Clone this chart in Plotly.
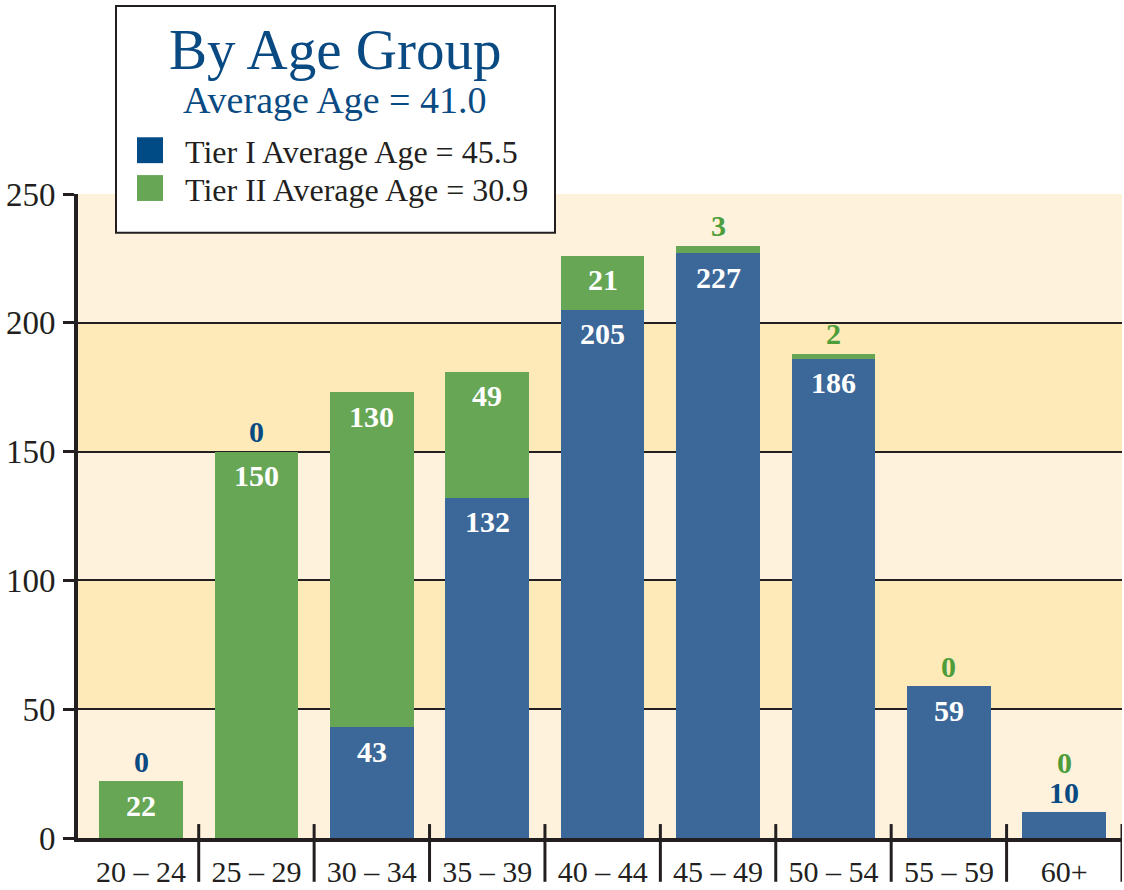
import plotly.graph_objects as go

categories = ["20 – 24", "25 – 29", "30 – 34", "35 – 39", "40 – 44",
              "45 – 49", "50 – 54", "55 – 59", "60+"]
tier1 = [0, 0, 43, 132, 205, 227, 186, 59, 10]
tier2 = [22, 150, 130, 49, 21, 3, 2, 0, 0]
y_ticks = [0, 50, 100, 150, 200, 250]

title_text = "By Age Group"
subtitle_text = "Average Age = 41.0"
legend_t1 = "Tier I Average Age = 45.5"
legend_t2 = "Tier II Average Age = 30.9"

BLUE = "#3C6899"
BLUE_DARK = "#0A4A82"
LEG_BLUE = "#004A85"
GREEN = "#66A655"
GREEN_LBL = "#4E9D3B"
INK = "#231F20"
LIGHT = "#FFF2DC"
BAND = "#FEEAB9"
FONT = "Liberation Serif"

W, H = 1124, 890
L, R, T, B = 78, 2, 194, 49
pw, ph = W - L - R, H - T - B


def px(x):
    return (x - L) / pw


def py(y):
    return (H - B - y) / ph


fig = go.Figure()
fig.add_trace(go.Bar(x=categories, y=tier1, marker=dict(color=BLUE, line=dict(width=0)),
                     name=legend_t1, showlegend=False, hoverinfo="skip"))
fig.add_trace(go.Bar(x=categories, y=tier2, marker=dict(color=GREEN, line=dict(width=0)),
                     name=legend_t2, showlegend=False, hoverinfo="skip"))

annotations = []
shapes = []

# background bands
for lo in (50, 150):
    shapes.append(dict(type="rect", xref="paper", yref="y", x0=0, x1=1, y0=lo, y1=lo + 50,
                       fillcolor=BAND, line=dict(width=0), layer="below"))

LBL_SIZE = 30
INSIDE_MIN = 15
for i, c in enumerate(categories):
    b, g = tier1[i], tier2[i]
    total = b + g
    slot = 0
    # Tier I label
    if b >= INSIDE_MIN:
        annotations.append(dict(x=c, y=b, text=f"<b>{b}</b>", showarrow=False, yanchor="middle",
                                yshift=-24, font=dict(family=FONT, size=LBL_SIZE, color="white")))
    else:
        slot += 1
        annotations.append(dict(x=c, y=total, text=f"<b>{b}</b>", showarrow=False, yanchor="middle",
                                yshift=20 + 30 * (slot - 1),
                                font=dict(family=FONT, size=LBL_SIZE, color=BLUE_DARK)))
    # Tier II label
    if g >= INSIDE_MIN:
        annotations.append(dict(x=c, y=total, text=f"<b>{g}</b>", showarrow=False, yanchor="middle",
                                yshift=-24, font=dict(family=FONT, size=LBL_SIZE, color="white")))
    else:
        slot += 1
        annotations.append(dict(x=c, y=total, text=f"<b>{g}</b>", showarrow=False, yanchor="middle",
                                yshift=20 + 30 * (slot - 1),
                                font=dict(family=FONT, size=LBL_SIZE, color=GREEN_LBL)))

# category separators
for i in range(len(categories)):
    shapes.append(dict(type="line", xref="x", yref="paper", x0=i + 0.5, x1=i + 0.5,
                       y0=py(885), y1=py(827), line=dict(color=INK, width=3)))

# legend box
shapes.append(dict(type="rect", xref="paper", yref="paper", x0=px(116), x1=px(555),
                   y0=py(233), y1=py(5), fillcolor="white", line=dict(color=INK, width=2), layer="above"))
shapes.append(dict(type="rect", xref="paper", yref="paper", x0=px(137), x1=px(163),
                   y0=py(163), y1=py(137), fillcolor=LEG_BLUE, line=dict(width=0), layer="above"))
shapes.append(dict(type="rect", xref="paper", yref="paper", x0=px(137), x1=px(163),
                   y0=py(201), y1=py(175), fillcolor=GREEN, line=dict(width=0), layer="above"))

annotations.append(dict(xref="paper", yref="paper", x=px(335), y=py(49), text=title_text,
                        showarrow=False, xanchor="center", yanchor="middle",
                        font=dict(family=FONT, size=57, color=BLUE_DARK)))
annotations.append(dict(xref="paper", yref="paper", x=px(335), y=py(100), text=subtitle_text,
                        showarrow=False, xanchor="center", yanchor="middle",
                        font=dict(family=FONT, size=38, color=BLUE_DARK)))
annotations.append(dict(xref="paper", yref="paper", x=px(183), y=py(152), text=legend_t1,
                        showarrow=False, xanchor="left", yanchor="middle",
                        font=dict(family=FONT, size=32, color=INK)))
annotations.append(dict(xref="paper", yref="paper", x=px(183), y=py(190), text=legend_t2,
                        showarrow=False, xanchor="left", yanchor="middle",
                        font=dict(family=FONT, size=32, color=INK)))

fig.update_layout(
    width=W, height=H,
    margin=dict(l=L, r=R, t=T, b=B, pad=0),
    barmode="stack", bargap=0.275,
    paper_bgcolor="white", plot_bgcolor=LIGHT,
    showlegend=False,
    shapes=shapes, annotations=annotations,
    font=dict(family=FONT, color=INK),
)
fig.update_xaxes(range=[-0.546, 8.5], showgrid=False, ticks="", showline=True, linecolor=INK,
                 linewidth=4, tickfont=dict(family=FONT, size=30, color=INK), ticklabelstandoff=4,
                 fixedrange=True)
fig.update_yaxes(range=[0, 250], tickvals=y_ticks, showgrid=True, gridcolor=INK, gridwidth=2,
                 zeroline=False, showline=True, linecolor=INK, linewidth=4,
                 ticks="outside", ticklen=11, tickwidth=3, tickcolor=INK,
                 tickfont=dict(family=FONT, size=33, color=INK), ticklabelstandoff=1,
                 fixedrange=True)

fig.write_html(
    "out.html",
    config={"displayModeBar": False},
    post_script="document.body.style.margin='0px';document.body.style.overflow='hidden';",
)
